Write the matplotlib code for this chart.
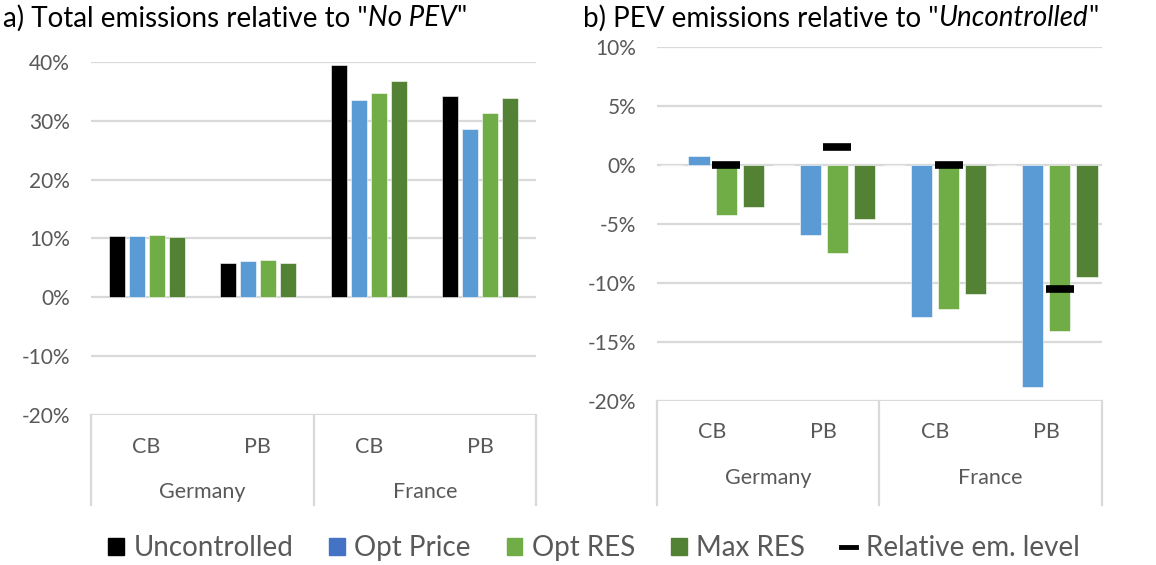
import matplotlib
matplotlib.use("Agg")
import matplotlib.pyplot as plt
import matplotlib.patches as mpatches
from matplotlib.lines import Line2D
from matplotlib.ticker import FuncFormatter
import numpy as np

plt.rcParams['font.family'] = ['Lato', 'DejaVu Sans']

# ── data (percent) ──
categories = ['CB', 'PB', 'CB', 'PB']
countries = ['Germany', 'France']
series = ['Uncontrolled', 'Opt Price', 'Opt RES', 'Max RES']

# a) total emissions relative to "No PEV"
uncontrolled_a = [10.5, 5.8, 39.5, 34.3]
opt_price_a = [10.5, 6.2, 33.6, 28.6]
opt_res_a = [10.6, 6.3, 34.8, 31.3]
max_res_a = [10.3, 5.9, 36.8, 33.8]

# b) PEV emissions relative to "Uncontrolled"
uncontrolled_b = [0.0, 0.0, 0.0, 0.0]
opt_price_b = [0.8, -5.9, -12.9, -18.85]
opt_res_b = [-4.2, -7.45, -12.2, -14.1]
max_res_b = [-3.6, -4.6, -10.9, -9.5]
rel_level_b = [0.0, 1.55, 0.0, -10.5]

BAR_COLORS = ['#000000', '#5B9BD5', '#70AD47', '#548235']
LEGEND_COLORS = ['#000000', '#4472C4', '#70AD47', '#548235']
GRID = '#D9D9D9'
TXT = '#595959'

fig = plt.figure(figsize=(11.56, 5.65), dpi=100)
ax_a = fig.add_axes([0.0787, 0.2655, 0.385, 0.6248])
ax_b = fig.add_axes([0.5683, 0.2903, 0.385, 0.6265])


def pct(v, pos):
    return f'{v:.0f}%'


def style_axis(ax, ylim, step, box_depth, cb_y, country_y):
    ax.set_xlim(-0.5, 3.5)
    ax.set_ylim(*ylim)
    ax.set_yticks(np.arange(ylim[0], ylim[1] + 0.01, step))
    ax.yaxis.set_major_formatter(FuncFormatter(pct))
    ax.tick_params(axis='y', length=0, pad=15, labelsize=15, labelcolor=TXT)
    ax.set_xticks([])
    for s in ax.spines.values():
        s.set_visible(False)
    ax.grid(axis='y', color=GRID, lw=1.6)
    ax.set_axisbelow(True)
    # category box under the plot
    trans = ax.get_xaxis_transform()
    for xv in [-0.5, 1.5, 3.5]:
        ax.plot([xv, xv], [0, -box_depth], color=GRID, lw=1.6,
                transform=trans, clip_on=False)
    for i, c in enumerate(categories):
        ax.text(i, cb_y, c, transform=trans, ha='center', va='center',
                fontsize=15.5, color=TXT)
    for j, c in enumerate(countries):
        ax.text(2 * j + 0.5, country_y, c, transform=trans, ha='center',
                va='center', fontsize=15.5, color=TXT)


x = np.arange(len(categories))

# ── a) ──
vals_a = [uncontrolled_a, opt_price_a, opt_res_a, max_res_a]
step_a, width_a = 0.18, 0.144
for k, vals in enumerate(vals_a):
    ax_a.bar(x + (k - 1.5) * step_a, vals, width_a, color=BAR_COLORS[k],
             edgecolor='white', linewidth=0.4, zorder=2)
style_axis(ax_a, (-20, 40), 10, 0.255, -0.09, -0.218)

# ── b) ──
vals_b = [uncontrolled_b, opt_price_b, opt_res_b, max_res_b]
step_b, width_b = 0.243, 0.19
for k, vals in enumerate(vals_b):
    ax_b.bar(x + (k - 1.5) * step_b, vals, width_b, color=BAR_COLORS[k],
             edgecolor='white', linewidth=0.4, zorder=2)
ax_b.plot(x + 0.5 * step_b, rel_level_b, ls='none', marker='_', ms=20,
          mew=5.5, color='black', zorder=3)
style_axis(ax_b, (-20, 10), 5, 0.294, -0.087, -0.217)

# titles with italic part
fig.canvas.draw()
r = fig.canvas.get_renderer()


def title(xpix, parts):
    xx = xpix
    for txt, style in parts:
        t = fig.text(xx / 1156, 0.968, txt, fontsize=20, va='center',
                     ha='left', style=style)
        xx = t.get_window_extent(renderer=r).x1


title(3, [('a) Total emissions relative to "', 'normal'), ('No PEV', 'italic'),
          ('"', 'normal')])
title(583, [('b) PEV emissions relative to "', 'normal'),
            ('Uncontrolled', 'italic'), ('"', 'normal')])

handles = [mpatches.Patch(color=LEGEND_COLORS[k], label=series[k])
           for k in range(4)]
handles.append(Line2D([], [], color='black', lw=3.5,
                      label='Relative em. level'))
fig.legend(handles=handles, loc='center', bbox_to_anchor=(0.514, 0.03),
           ncol=5, frameon=False, fontsize=20, labelcolor=TXT,
           handlelength=0.55, handleheight=0.55, handletextpad=0.35,
           columnspacing=1.3)

fig.savefig('out.png', dpi=100)
